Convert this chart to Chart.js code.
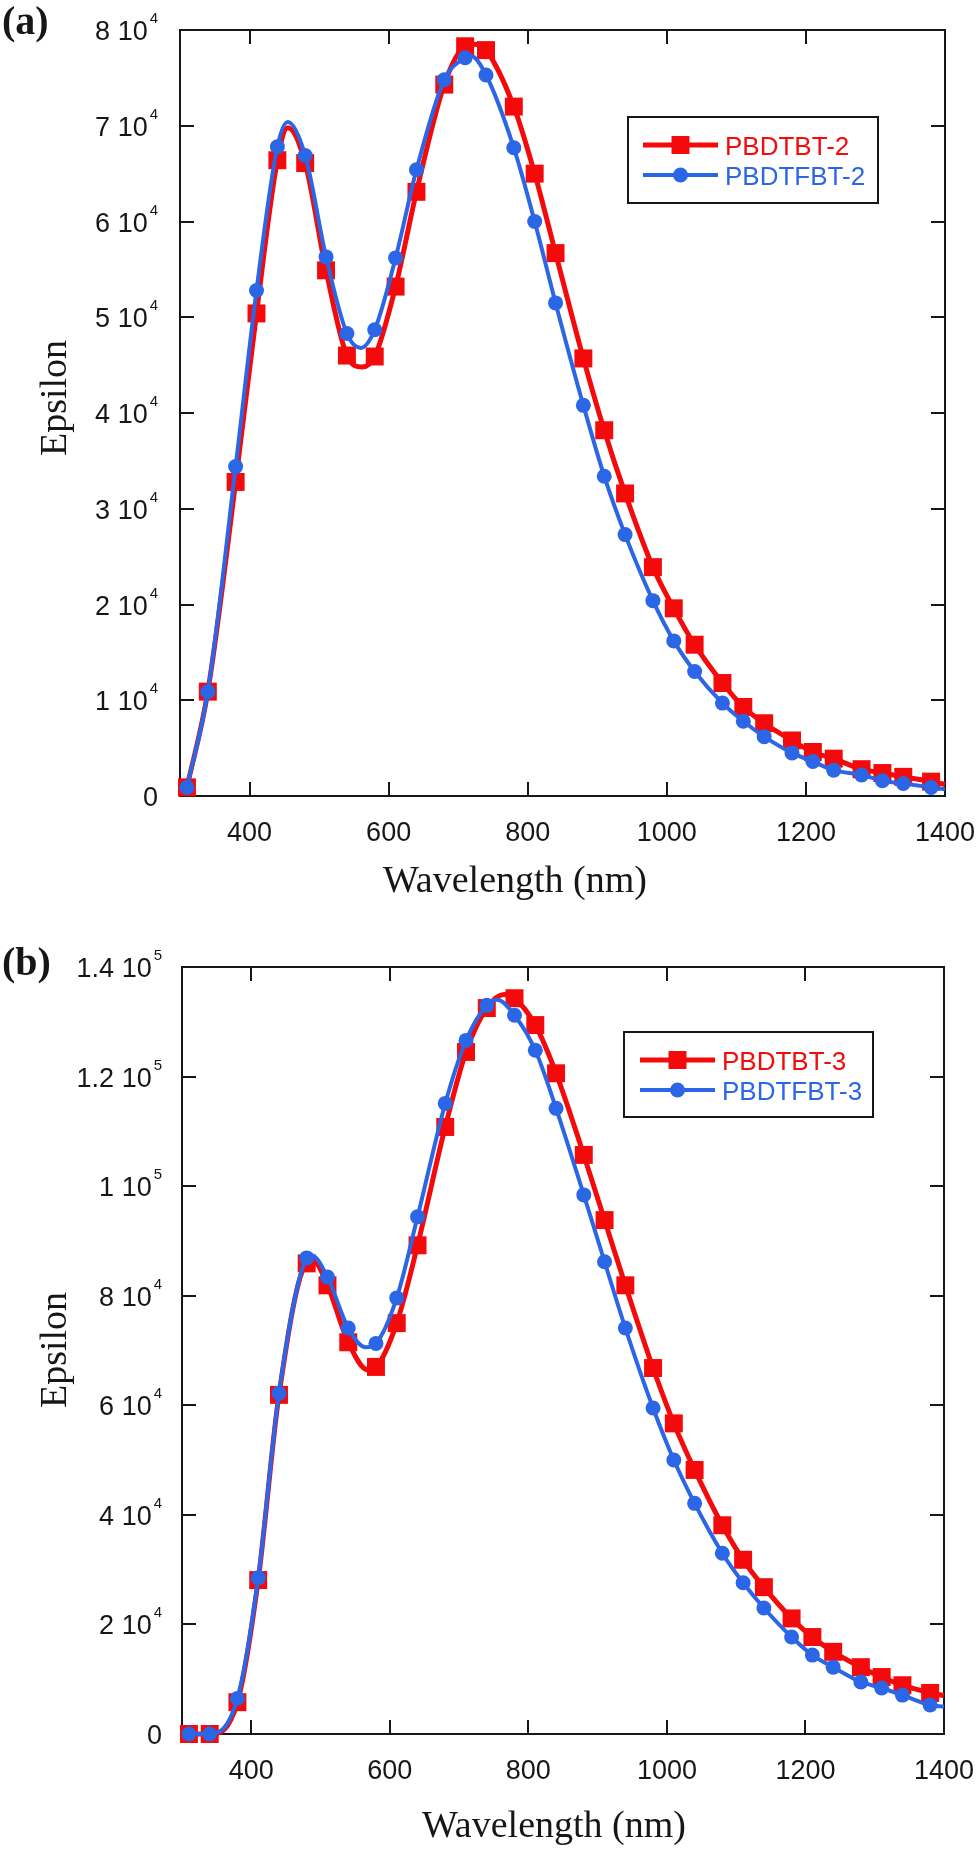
<!DOCTYPE html>
<html>
<head>
<meta charset="utf-8">
<title>Epsilon vs wavelength</title>
<script src="https://cdn.jsdelivr.net/npm/chart.js@4.4.1/dist/chart.umd.min.js"></script>
<style>
  html, body { margin: 0; padding: 0; background: #fff; }
  #wrap { position: relative; width: 980px; height: 1849px; }
  #wrap canvas { position: absolute; left: 0; }
</style>
</head>
<body>
<div id="wrap">
  <canvas id="chartA" width="980" height="925" style="top:0"></canvas>
  <canvas id="chartB" width="980" height="924" style="top:925px"></canvas>
</div>
<script>
// marker wavelengths (nm), shared by all four series
const wavelengths = [310, 340, 380, 410, 440, 480, 510, 540, 580, 610, 640, 680, 710, 740, 780, 810, 840,
                     880, 910, 940, 980, 1010, 1040, 1080, 1110, 1140, 1180, 1210, 1240, 1280, 1310, 1340, 1380];

// panel (a)
const pbdtbt2  = [900, 10900, 32800, 50400, 66400, 66100, 54900, 46000, 45900, 53200, 63100, 74300, 78300, 77900, 72000, 65000, 56700,
                  45700, 38200, 31600, 23900, 19600, 15800, 11800, 9300, 7600, 5800, 4600, 3900, 2800, 2400, 2000, 1500];
const pbdtfbt2 = [900, 10900, 34400, 52800, 67800, 66900, 56300, 48300, 48700, 56200, 65400, 74800, 77100, 75300, 67700, 60000, 51500,
                  40800, 33400, 27300, 20400, 16200, 13000, 9700, 7800, 6200, 4500, 3600, 2700, 2200, 1600, 1300, 900];
// panel (b)
const pbdtbt3  = [0, 0, 5800, 28100, 61900, 85900, 81900, 71500, 67000, 75000, 89200, 110800, 124500, 132500, 134300, 129400, 120600,
                  105700, 93800, 81900, 66800, 56700, 48200, 38100, 31800, 26800, 21100, 17700, 15000, 12200, 10400, 8900, 7500];
const pbdtfbt3 = [0, 0, 6500, 28500, 62200, 86900, 83400, 74100, 71300, 79600, 94400, 115100, 126600, 133000, 131200, 124800, 114200,
                  98400, 86200, 74100, 59500, 50000, 42100, 33000, 27600, 23000, 17700, 14400, 12200, 9500, 8400, 7100, 5300];

// extra points (peaks, dips, right edge)
const pbdtbt2Curve  = [[455, 69800], [562, 44800], [725, 78500], [1400, 1200]];
const pbdtfbt2Curve = [[455, 70400], [560, 46800], [718, 77300], [1400, 700]];
const pbdtbt3Curve  = [[490, 86300], [568, 66500], [765, 135000], [1400, 7000]];
const pbdtfbt3Curve = [[487, 87400], [565, 70600], [755, 134000], [1400, 5000]];

// axis ticks
const xTicks = [400, 600, 800, 1000, 1200, 1400];
const yTicksA = [0, 10000, 20000, 30000, 40000, 50000, 60000, 70000, 80000];
const yLabelsA = [["0", ""], ["1 10", "4"], ["2 10", "4"], ["3 10", "4"], ["4 10", "4"],
                  ["5 10", "4"], ["6 10", "4"], ["7 10", "4"], ["8 10", "4"]];
const yTicksB = [0, 20000, 40000, 60000, 80000, 100000, 120000, 140000];
const yLabelsB = [["0", ""], ["2 10", "4"], ["4 10", "4"], ["6 10", "4"], ["8 10", "4"],
                  ["1 10", "5"], ["1.2 10", "5"], ["1.4 10", "5"]];

const RED = "#f40a0a";
const BLUE = "#2b66e6";
const INK = "#161616";

function buildPoints(values, curve) {
    const pts = wavelengths.map((x, i) => ({ x, y: values[i], m: true }));
    curve.forEach(([x, y]) => pts.push({ x, y, m: false }));
    return pts.sort((a, b) => a.x - b.x);
}

function series(label, values, curve, color, style, radius, width, order) {
    return {
        label,
        data: buildPoints(values, curve),
        borderColor: color,
        backgroundColor: color,
        pointBackgroundColor: color,
        borderWidth: width,
        pointStyle: style,
        pointRadius: ctx => (ctx.raw && ctx.raw.m ? radius : 0),
        pointHoverRadius: 0,
        pointBorderWidth: 0,
        cubicInterpolationMode: "monotone",
        clip: false,
        order
    };
}

/* ============================
   FRAME, TICKS, LABELS, LEGEND
============================ */
function makeDecor(cfg) {
    return {
        id: "decor" + cfg.name,
        beforeDatasetsDraw(chart) {
            const { ctx, chartArea: a, scales } = chart;
            ctx.save();
            ctx.strokeStyle = INK;
            ctx.lineWidth = 2;
            ctx.strokeRect(a.left, a.top, a.right - a.left, a.bottom - a.top);
            ctx.beginPath();
            xTicks.forEach(v => {
                if (v >= scales.x.max) return;
                const px = Math.round(scales.x.getPixelForValue(v));
                ctx.moveTo(px, a.bottom); ctx.lineTo(px, a.bottom - 14);
                ctx.moveTo(px, a.top); ctx.lineTo(px, a.top + 14);
            });
            cfg.yTicks.forEach(v => {
                if (v <= scales.y.min || v >= scales.y.max) return;
                const py = Math.round(scales.y.getPixelForValue(v));
                ctx.moveTo(a.left, py); ctx.lineTo(a.left + 14, py);
                ctx.moveTo(a.right, py); ctx.lineTo(a.right - 14, py);
            });
            ctx.stroke();
            ctx.restore();
        },
        afterDraw(chart) {
            const { ctx, chartArea: a, scales } = chart;
            ctx.save();
            ctx.fillStyle = INK;

            // x tick labels
            ctx.font = "27px 'Liberation Sans', Arial, sans-serif";
            ctx.textAlign = "center";
            ctx.textBaseline = "alphabetic";
            xTicks.forEach(v => {
                ctx.fillText(String(v), scales.x.getPixelForValue(v), cfg.xLabelBase);
            });

            // y tick labels with superscript exponent
            cfg.yTicks.forEach((v, i) => {
                const [main, sup] = cfg.yLabels[i];
                const py = scales.y.getPixelForValue(v);
                let right = cfg.yLabelRight;
                if (sup) {
                    ctx.font = "15px 'Liberation Sans', Arial, sans-serif";
                    const w = ctx.measureText(sup).width;
                    ctx.textAlign = "left";
                    ctx.fillText(sup, right - w, py - 7);
                    right -= w + 2;
                }
                ctx.font = "27px 'Liberation Sans', Arial, sans-serif";
                ctx.textAlign = "right";
                ctx.fillText(main, right, py + 10);
            });

            // axis titles
            ctx.font = "38px 'Liberation Serif', 'Times New Roman', serif";
            ctx.textAlign = "center";
            ctx.fillText("Wavelength (nm)", cfg.titleX, cfg.titleBase);
            ctx.save();
            ctx.translate(66, cfg.epsY);
            ctx.rotate(-Math.PI / 2);
            ctx.fillText("Epsilon", 0, 0);
            ctx.restore();

            // panel letter
            ctx.font = "bold 40px 'Liberation Serif', 'Times New Roman', serif";
            ctx.textAlign = "left";
            ctx.fillText(cfg.name, 2, cfg.nameBase);

            // legend
            const L = cfg.legend;
            ctx.strokeStyle = INK;
            ctx.lineWidth = 2;
            ctx.strokeRect(L.x0, L.y0, L.x1 - L.x0, L.y1 - L.y0);
            ctx.font = "26px 'Liberation Sans', Arial, sans-serif";
            ctx.textAlign = "left";
            L.rows.forEach(r => {
                ctx.strokeStyle = r.color;
                ctx.fillStyle = r.color;
                ctx.lineWidth = r.width;
                ctx.beginPath();
                ctx.moveTo(L.lineX0, r.y); ctx.lineTo(L.lineX1, r.y);
                ctx.stroke();
                const mx = (L.lineX0 + L.lineX1) / 2;
                if (r.style === "rect") {
                    const s = r.radius * Math.SQRT1_2;
                    ctx.fillRect(mx - s, r.y - s, 2 * s, 2 * s);
                } else {
                    ctx.beginPath();
                    ctx.arc(mx, r.y, r.radius, 0, Math.PI * 2);
                    ctx.fill();
                }
                ctx.fillText(r.text, L.textX, r.y + 10);
            });
            ctx.restore();
        }
    };
}

function makeChart(id, datasets, yMax, pad, decor) {
    return new Chart(document.getElementById(id), {
        type: "line",
        data: { datasets },
        options: {
            responsive: false,
            animation: false,
            events: [],
            layout: { padding: pad },
            scales: {
                x: { type: "linear", min: 300, max: 1400, display: false },
                y: { type: "linear", min: 0, max: yMax, display: false }
            },
            plugins: { legend: { display: false }, tooltip: { enabled: false } }
        },
        plugins: [makeDecor(decor)]
    });
}

document.addEventListener("DOMContentLoaded", () => {
    makeChart("chartA", [
        series("PBDTFBT-2", pbdtfbt2, pbdtfbt2Curve, BLUE, "circle", 7.5, 4, 0),
        series("PBDTBT-2", pbdtbt2, pbdtbt2Curve, RED, "rect", 12.7, 5, 1)
    ], 80000, { left: 180, top: 30, right: 980 - 945, bottom: 925 - 796 }, {
        name: "(a)", nameBase: 34,
        yTicks: yTicksA, yLabels: yLabelsA, yLabelRight: 158,
        xLabelBase: 841, titleX: 515, titleBase: 892, epsY: 398,
        legend: {
            x0: 628, y0: 117, x1: 878, y1: 203, lineX0: 643, lineX1: 718, textX: 725,
            rows: [
                { text: "PBDTBT-2", color: RED, style: "rect", radius: 12.7, width: 5, y: 145 },
                { text: "PBDTFBT-2", color: BLUE, style: "circle", radius: 7.5, width: 4, y: 175 }
            ]
        }
    });

    const top = 925;
    makeChart("chartB", [
        series("PBDTFBT-3", pbdtfbt3, pbdtfbt3Curve, BLUE, "circle", 7.5, 4, 0),
        series("PBDTBT-3", pbdtbt3, pbdtbt3Curve, RED, "rect", 12.7, 5, 1)
    ], 140000, { left: 182, top: 967 - top, right: 980 - 944, bottom: 924 - (1734 - top) }, {
        name: "(b)", nameBase: 975 - top,
        yTicks: yTicksB, yLabels: yLabelsB, yLabelRight: 162,
        xLabelBase: 1779 - top, titleX: 554, titleBase: 1837 - top, epsY: 1350 - top,
        legend: {
            x0: 624, y0: 1032 - top, x1: 873, y1: 1117 - top, lineX0: 640, lineX1: 715, textX: 722,
            rows: [
                { text: "PBDTBT-3", color: RED, style: "rect", radius: 12.7, width: 5, y: 1060 - top },
                { text: "PBDTFBT-3", color: BLUE, style: "circle", radius: 7.5, width: 4, y: 1090 - top }
            ]
        }
    });
});
</script>
</body>
</html>
